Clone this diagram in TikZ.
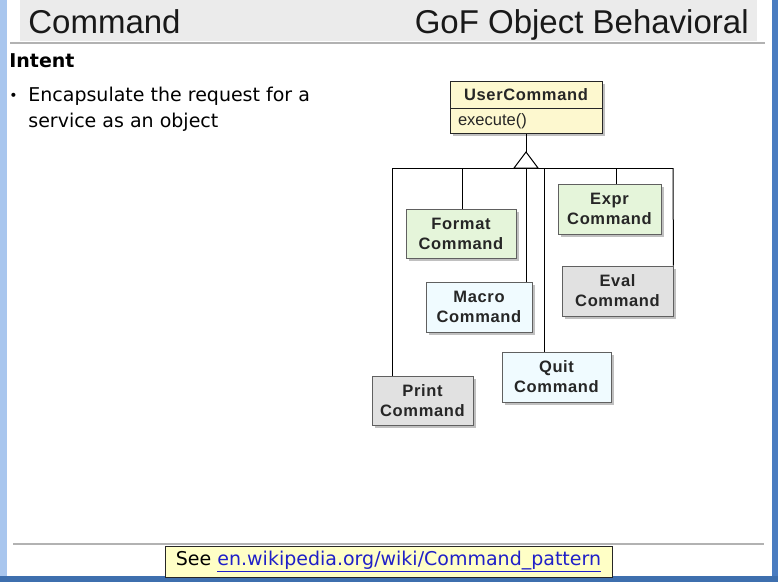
\documentclass[tikz,border=0pt]{standalone}
\usepackage{fontspec}
\setmainfont{DejaVu Sans}
\newfontfamily\titlefont{Liberation Sans}
\newfontfamily\classfont[LetterSpace=4]{Liberation Sans}
\usetikzlibrary{positioning}
\usetikzlibrary{shadows}
\definecolor{leftblue}{RGB}{169,198,238}
\definecolor{rightblue}{RGB}{74,124,192}
\definecolor{bottomblue}{RGB}{62,111,174}
\definecolor{titlegray}{RGB}{235,235,235}
\definecolor{rulegray}{RGB}{178,178,178}
\definecolor{userfill}{RGB}{253,248,207}
\definecolor{greenfill}{RGB}{229,245,218}
\definecolor{cyanfill}{RGB}{240,251,255}
\definecolor{grayfill}{RGB}{225,225,225}
\definecolor{boxline}{RGB}{96,96,96}
\definecolor{notefill}{RGB}{255,255,198}
\definecolor{linkblue}{RGB}{32,32,200}
\tikzset{every picture/.style={line width=0.75pt}}
\tikzset{
  classbox/.style={draw=boxline, line width=0.9pt, align=center, inner sep=0pt,
    minimum height=50, font=\classfont\bfseries\fontsize{16.5}{20}\selectfont, text=black!85,
    drop shadow={shadow xshift=2.5pt, shadow yshift=-2.5pt, fill=black!35, opacity=0.7}},
  link/.style={line width=1pt, black}
}

\begin{document}
\begin{tikzpicture}[x=1pt,y=1pt,yscale=-1,xscale=1]
\useasboundingbox (0,0) rectangle (778,582);

%Shape: Rectangle [slide frame]
\fill [leftblue] (0,0) rectangle (778,582);
\fill [rightblue] (772,0) rectangle (778,582);
\fill [bottomblue] (0,576) rectangle (778,582);
\fill [white] (7,0) rectangle (772,576);

%Shape: Rectangle [title bar]
\fill [titlegray] (20,0) rectangle (757,41);
%Straight Lines
\draw [rulegray, line width=1.3pt] (10,43) -- (765,43);

% Text Node
\node (title) [anchor=base west, inner sep=0pt, font=\titlefont\fontsize{33}{38}\selectfont, text=black!90] at (28,33) {Command};
% Text Node
\node (family) [anchor=base east, inner sep=0pt, font=\titlefont\fontsize{33}{38}\selectfont, text=black!90] at (749,33) {GoF Object Behavioral};
% Text Node
\node (intent) [anchor=base west, inner sep=0pt, font=\bfseries\fontsize{19}{23}\selectfont] at (9,67) {Intent};
% Text Node
\node (bullet) [anchor=base west, inner sep=0pt, font=\fontsize{14}{19}\selectfont] at (9,100) {•};
% Text Node
\node (line1) [anchor=base west, inner sep=0pt, font=\fontsize{19}{26}\selectfont] at (28,101) {Encapsulate the request for a};
% Text Node
\node (line2) [anchor=base west, inner sep=0pt, font=\fontsize{19}{26}\selectfont] at (28,127) {service as an object};

%Shape: Class [UserCommand]
\node (user) [classbox, fill=userfill, draw=black!85, minimum width=152, minimum height=27] at (526,94.5) {UserCommand};
\node (exec) [classbox, fill=userfill, draw=black!85, minimum width=152, minimum height=25, below=0pt of user,
  font=\titlefont\fontsize{16.5}{20}\selectfont, text width=136, align=left] {execute()};

%Shape: Class [subclasses]
\node (format) [classbox, fill=greenfill, minimum width=110, minimum height=49] at (461,233.5) {Format\\Command};
\node (expr) [classbox, fill=greenfill, minimum width=103] at (609.5,209) {Expr\\Command};
\node (macro) [classbox, fill=cyanfill, minimum width=106] at (479,307) {Macro\\Command};
\node (eval) [classbox, fill=grayfill, minimum width=111] at (617.5,291) {Eval\\Command};
\node (quit) [classbox, fill=cyanfill, minimum width=109] at (556.5,377) {Quit\\Command};
\node (print) [classbox, fill=grayfill, minimum width=101, minimum height=49] at (422.5,400.5) {Print\\Command};

% Generalization
\coordinate (apex) at (526,152);
\coordinate (hub) at (526,168);
\coordinate (busL) at (392,168);
\coordinate (busR) at (673,168);
\coordinate (bFormat) at (462,168);
\coordinate (bExpr) at (616,168);
\coordinate (bQuit) at (544,168);

%Straight Lines
\draw [link] (exec.south) -- (apex);
\draw [link, fill=white] (apex) -- ++(-12,16) -- ++(24,0) -- cycle;
\draw [link] (busL) -- (busR);
\draw [link] (busL) -- (busL |- print.north);
\draw [link] (bFormat) -- (bFormat |- format.north);
\draw [link] (hub) -- (hub |- macro.north);
\draw [link] (bQuit) -- (bQuit |- quit.north);
\draw [link] (bExpr) -- (bExpr |- expr.north);
\draw [link] (busR) -- (eval.north east);

%Straight Lines [footer]
\draw [rulegray, line width=1.3pt] (13,544) -- (764,544);
% Text Node
\node (note) [draw=black!85, line width=0.9pt, fill=notefill, minimum width=447, minimum height=31, inner sep=0pt,
  font=\fontsize{19}{23}\selectfont] at (388.5,561.5)
  {See \textcolor{linkblue}{\underline{en.wikipedia.org/wiki/Command\_pattern}}};

\end{tikzpicture}
\end{document}
